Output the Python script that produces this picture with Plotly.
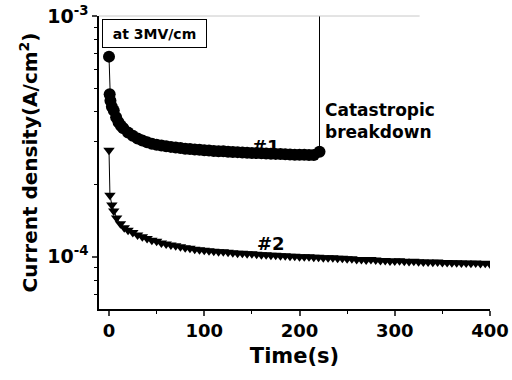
import plotly.graph_objects as go

# Sample #1 (circles) – time (s) and current density (A/cm^2)
t1 = [0, 0.7, 1.5, 3, 5, 7.5, 10, 12.5, 15, 20, 25, 30, 35, 40, 45, 50, 55, 60, 65, 70,
      75, 80, 85, 90, 95, 100, 105, 110, 115, 120, 125, 130, 135, 140, 145, 150, 155,
      160, 165, 170, 175, 180, 185, 190, 195, 200, 205, 210, 215, 221]
j1 = [6.78, 4.73, 4.45, 4.20, 4.05, 3.80, 3.62, 3.50, 3.42, 3.28, 3.18, 3.10, 3.04, 2.99,
      2.95, 2.92, 2.90, 2.88, 2.86, 2.84, 2.83, 2.81, 2.80, 2.79, 2.78, 2.77, 2.76, 2.75,
      2.745, 2.74, 2.73, 2.725, 2.72, 2.71, 2.705, 2.70, 2.695, 2.69, 2.685, 2.68, 2.675,
      2.67, 2.665, 2.66, 2.655, 2.65, 2.65, 2.645, 2.645, 2.73]
j1 = [v * 1e-4 for v in j1]

# Breakdown jump of sample #1
t_break = [221, 221]
j_break = [2.73e-4, 1e-2]

# Sample #2 (down triangles)
t2 = [0, 1, 3, 5, 8, 12, 16, 20, 25, 30, 35, 40, 45, 50, 55, 60, 65, 70, 75, 80, 85, 90,
      95, 100, 105, 110, 115, 120, 125, 130, 135, 140, 145, 150, 155, 160, 165, 170, 175,
      180, 185, 190, 195, 200, 205, 210, 215, 220, 225, 230, 235, 240, 245, 250, 255, 260,
      265, 270, 275, 280, 285, 290, 295, 300, 305, 310, 315, 320, 325, 330, 335, 340, 345,
      350, 355, 360, 365, 370, 375, 380, 385, 390, 395, 400]
j2 = [2.77, 1.80, 1.64, 1.55, 1.45, 1.37, 1.32, 1.29, 1.26, 1.23, 1.21, 1.19, 1.17, 1.16,
      1.14, 1.13, 1.12, 1.11, 1.10, 1.09, 1.085, 1.075, 1.07, 1.065, 1.06, 1.055, 1.05,
      1.05, 1.045, 1.04, 1.035, 1.035, 1.03, 1.03, 1.025, 1.02, 1.02, 1.015, 1.015, 1.01,
      1.01, 1.005, 1.005, 1.00, 1.00, 1.00, 0.995, 0.995, 0.99, 0.99, 0.99, 0.985, 0.985,
      0.98, 0.98, 0.975, 0.975, 0.97, 0.975, 0.97, 0.965, 0.965, 0.96, 0.96, 0.962, 0.958,
      0.955, 0.957, 0.953, 0.95, 0.952, 0.948, 0.95, 0.946, 0.947, 0.944, 0.945, 0.942,
      0.943, 0.94, 0.941, 0.938, 0.94, 0.932]
j2 = [v * 1e-4 for v in j2]

x_ticks = [0, 100, 200, 300, 400]
y_ticks = [1e-4, 1e-3]
y_ticktext = ["10<sup>-4</sup>", "10<sup>-3</sup>"]
y_minor = [6e-5, 7e-5, 8e-5, 9e-5, 2e-4, 3e-4, 4e-4, 5e-4, 6e-4, 7e-4, 8e-4, 9e-4]
x_minor = [50, 150, 250, 350]

FONT = "DejaVu Sans, Liberation Sans, Arial, sans-serif"

fig = go.Figure()
fig.add_trace(go.Scatter(x=t_break, y=j_break, mode="lines",
                         line=dict(color="black", width=1), showlegend=False))
fig.add_trace(go.Scatter(x=t1, y=j1, mode="lines+markers",
                         line=dict(color="black", width=1),
                         marker=dict(symbol="circle", size=12, color="black"),
                         showlegend=False))
fig.add_trace(go.Scatter(x=t2, y=j2, mode="lines+markers",
                         line=dict(color="black", width=1),
                         marker=dict(symbol="triangle-down", size=10, color="black"),
                         showlegend=False))

fig.update_layout(
    width=512, height=380,
    margin=dict(l=99, r=22, t=16, b=71),
    paper_bgcolor="white", plot_bgcolor="white",
    font=dict(family=FONT, color="black"),
    xaxis=dict(
        range=[-10.5, 400], tickvals=x_ticks, ticks="outside", ticklen=5, tickwidth=1.5,
        showline=True, linecolor="black", linewidth=1.5, showgrid=False, zeroline=False,
        automargin=False,
        tickfont=dict(size=18, weight="bold", family=FONT),
        minor=dict(tickvals=x_minor, ticks="outside", ticklen=3, tickwidth=1.2, tickcolor="black"),
        title=dict(text="Time(s)", font=dict(size=21, weight="bold", family=FONT), standoff=8),
    ),
    yaxis=dict(
        type="log", range=[-4.217, -3.0], tickvals=y_ticks, ticktext=y_ticktext,
        ticks="outside", ticklen=5, tickwidth=1.5,
        showline=True, linecolor="black", linewidth=1.5, showgrid=False, zeroline=False,
        automargin=False,
        tickfont=dict(size=19, weight="bold", family=FONT),
        minor=dict(tickvals=y_minor, ticks="outside", ticklen=3, tickwidth=1.2, tickcolor="black"),
        title=dict(text="Current density(A/cm<sup>2</sup>)",
                   font=dict(size=20, weight="bold", family=FONT), standoff=4),
    ),
)

# faint top frame line
fig.add_shape(type="line", xref="paper", yref="paper", x0=0, x1=0.82, y0=1, y1=1,
              line=dict(color="#c8c8c8", width=1))

fig.add_annotation(x=0.008, y=0.99, xref="paper", yref="paper", xanchor="left", yanchor="top",
                   text="at 3MV/cm", showarrow=False, bordercolor="black", borderwidth=1,
                   width=99, height=23, borderpad=2,
                   font=dict(size=14, weight="bold", family=FONT))
fig.add_annotation(x=225, y=-3.435, xanchor="left", yanchor="middle",
                   text="Catastropic<br>breakdown", align="left", showarrow=False,
                   font=dict(size=17, weight="bold", family=FONT))
fig.add_annotation(x=165, y=-3.54, xanchor="center", yanchor="middle", text="#1",
                   showarrow=False, font=dict(size=18, weight="bold", family=FONT))
fig.add_annotation(x=170, y=-3.945, xanchor="center", yanchor="middle", text="#2",
                   showarrow=False, font=dict(size=18, weight="bold", family=FONT))

fig.write_html("out.html")
